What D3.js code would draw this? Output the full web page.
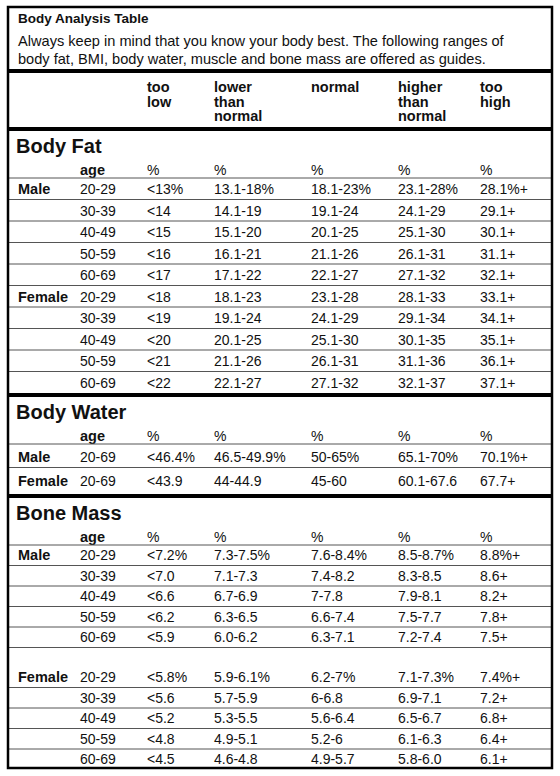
<!DOCTYPE html>
<html><head><meta charset="utf-8">
<script src="https://cdn.jsdelivr.net/npm/d3@7"></script>
<style>body{margin:0;background:#fff}text{font-family:"Liberation Sans",Arial,sans-serif;fill:#111}</style>
</head><body><svg id="c" width="560" height="776"></svg>
<script>
const title = "Body Analysis Table";
const desc = ["Always keep in mind that you know your body best. The following ranges of","body fat, BMI, body water, muscle and bone mass are offered as guides."];
const columns = [["too","low"],["lower","than","normal"],["normal"],["higher","than","normal"],["too","high"]];
const fatMale = [["20-29","<13%","13.1-18%","18.1-23%","23.1-28%","28.1%+"],["30-39","<14","14.1-19","19.1-24","24.1-29","29.1+"],["40-49","<15","15.1-20","20.1-25","25.1-30","30.1+"],["50-59","<16","16.1-21","21.1-26","26.1-31","31.1+"],["60-69","<17","17.1-22","22.1-27","27.1-32","32.1+"]];
const fatFemale = [["20-29","<18","18.1-23","23.1-28","28.1-33","33.1+"],["30-39","<19","19.1-24","24.1-29","29.1-34","34.1+"],["40-49","<20","20.1-25","25.1-30","30.1-35","35.1+"],["50-59","<21","21.1-26","26.1-31","31.1-36","36.1+"],["60-69","<22","22.1-27","27.1-32","32.1-37","37.1+"]];
const waterMale = [["20-69","<46.4%","46.5-49.9%","50-65%","65.1-70%","70.1%+"]];
const waterFemale = [["20-69","<43.9","44-44.9","45-60","60.1-67.6","67.7+"]];
const boneMale = [["20-29","<7.2%","7.3-7.5%","7.6-8.4%","8.5-8.7%","8.8%+"],["30-39","<7.0","7.1-7.3","7.4-8.2","8.3-8.5","8.6+"],["40-49","<6.6","6.7-6.9","7-7.8","7.9-8.1","8.2+"],["50-59","<6.2","6.3-6.5","6.6-7.4","7.5-7.7","7.8+"],["60-69","<5.9","6.0-6.2","6.3-7.1","7.2-7.4","7.5+"]];
const boneFemale = [["20-29","<5.8%","5.9-6.1%","6.2-7%","7.1-7.3%","7.4%+"],["30-39","<5.6","5.7-5.9","6-6.8","6.9-7.1","7.2+"],["40-49","<5.2","5.3-5.5","5.6-6.4","6.5-6.7","6.8+"],["50-59","<4.8","4.9-5.1","5.2-6","6.1-6.3","6.4+"],["60-69","<4.5","4.6-4.8","4.9-5.7","5.8-6.0","6.1+"]];

const svg = d3.select("#c");
const L = 8, R = 552, T = 7, B = 768;
const colX = d3.scaleOrdinal().domain(["sex","age","c0","c1","c2","c3","c4"]).range([18,80,147,214,311,398,480]);
const hline = (y, w, c) => svg.append("line").attr("x1",L).attr("x2",R).attr("y1",y).attr("y2",y).attr("stroke",c||"#555").attr("stroke-width",w||1);
const txt = (x,y,s,size,bold) => svg.append("text").attr("x",x).attr("y",y).attr("font-size",size||14).attr("font-weight",bold?"bold":"normal").text(s);

txt(18,23,title,13.5,true);
desc.forEach((d,i)=>txt(18,46+i*18,d,14.6));
hline(71,4,"#000");
columns.forEach((c,i)=>c.forEach((w,j)=>txt(colX("c"+i),92+j*14.5,w,14.5,true)));
hline(129,4,"#000");

function section(name, y0, groups, rh, firstGap){
  txt(16,y0+24,name,20,true);
  txt(colX("age"),y0+46,"age",14.5,true);
  for(let i=0;i<5;i++) txt(colX("c"+i),y0+46,"%",14);
  let y = y0+49;
  hline(y);
  groups.forEach((g,gi)=>{
    g.rows.forEach((r,ri)=>{
      const h = (ri===0 && gi>0 && firstGap) ? firstGap : rh;
      const base = y + h - 5.5;
      if(ri===0) txt(colX("sex"),base,g.label,14.5,true);
      r.forEach((v,k)=>txt(k===0?colX("age"):colX("c"+(k-1)),base,v,14));
      y += h;
      if(!g.last || ri<g.rows.length-1) hline(y);
    });
  });
  return y;
}
section("Body Fat",129,[{label:"Male",rows:fatMale},{label:"Female",rows:fatFemale,last:true}],21.5);
hline(395,4,"#000");
section("Body Water",395,[{label:"Male",rows:waterMale},{label:"Female",rows:waterFemale,last:true}],23.5);
hline(496,4,"#000");
section("Bone Mass",496,[{label:"Male",rows:boneMale},{label:"Female",rows:boneFemale,last:true}],20.5,40);
svg.append("rect").attr("x",L).attr("y",T).attr("width",R-L).attr("height",B-T).attr("fill","none").attr("stroke","#000").attr("stroke-width",2.5);
</script></body></html>
